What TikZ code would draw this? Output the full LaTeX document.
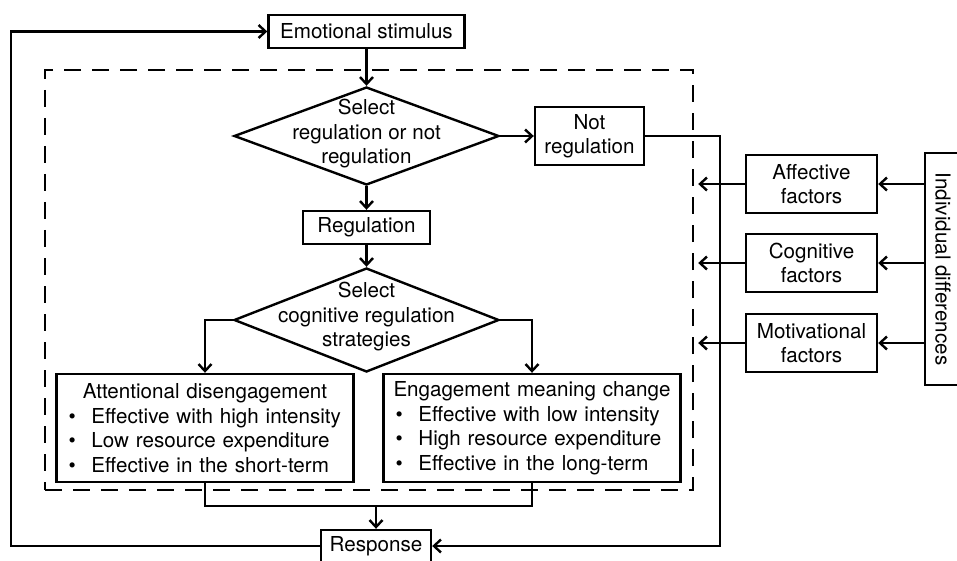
\documentclass[tikz,border=0pt]{standalone}
\usepackage{fontspec}
\setmainfont{TeX Gyre Heros}
\usetikzlibrary{arrows.meta,shapes.geometric,calc}
\newcommand{\itembul}{\makebox[23pt][l]{\textbullet}}

\begin{document}
\begin{tikzpicture}[x=1pt,y=-1pt,
      line width=2.4pt,
      every node/.style={font=\fontsize{20.6}{24.5}\selectfont},
      stepbox/.style={draw,rectangle,inner sep=0pt,align=center},
      decide/.style={draw,diamond,inner sep=0pt,minimum width=265pt,minimum height=98pt},
      listbox/.style={draw,rectangle,text width=273pt,inner xsep=12pt,inner ysep=4pt,
        minimum height=108pt,align=left},
      dashframe/.style={draw,dash pattern=on 17pt off 11pt,inner sep=0pt},
      tip/.style={-{Straight Barb[length=7pt,width=13pt]}}
      ]
      \useasboundingbox (0,0) rectangle (957,561);

      % main flow
      \node[stepbox,minimum width=196pt,minimum height=33pt] (stim) at (366.5,31.5) {Emotional stimulus};
      \node[dashframe,minimum width=648pt,minimum height=420pt] (regframe) at (369,280) {};
      \node[decide] (sel1) at (366.5,136) {};
      \node[align=center] (sel1txt) at (366.5,134) {Select\\regulation or not\\regulation};
      \node[stepbox,minimum width=109pt,minimum height=58pt] (notreg) at (589.5,136) {Not\\regulation};
      \node[stepbox,minimum width=127pt,minimum height=33pt] (reg) at (366.5,227.5) {Regulation};
      \node[decide,minimum height=104pt] (sel2) at (366.5,320) {};
      \node[align=center] (sel2txt) at (366.5,317) {Select\\cognitive regulation\\strategies};

      \node[listbox] (att) at (205,428) {\makebox[273pt]{Attentional disengagement}\\
        \itembul Effective with high intensity\\
        \itembul Low resource expenditure\\
        \itembul Effective in the short-term};
      \node[listbox] (eng) at (532,428) {\makebox[273pt]{Engagement meaning change}\\
        \itembul Effective with low intensity\\
        \itembul High resource expenditure\\
        \itembul Effective in the long-term};

      \node[stepbox,minimum width=110pt,minimum height=32pt] (resp) at (376,546) {Response};

      % individual differences
      \node[stepbox,minimum width=131pt,minimum height=58pt] (aff) at (811.5,184) {Affective\\factors};
      \node[stepbox,minimum width=131pt,minimum height=58pt] (cog) at (811.5,263) {Cognitive\\factors};
      \node[stepbox,minimum width=131pt,minimum height=58pt] (mot) at (811.5,343) {Motivational\\factors};
      \node[stepbox,rotate=-90,minimum width=232pt,minimum height=36pt] (indiv) at (943,269) {Individual differences};

      \draw[tip] (stim.south) -- (sel1.north);
      \draw[tip] (sel1.east) -- (notreg.west);
      \draw[tip] (sel1.south) -- (reg.north);
      \draw[tip] (reg.south) -- (sel2.north);
      \draw[tip] (sel2.west) -| (att.north);
      \draw[tip] (sel2.east) -| (eng.north);

      \coordinate (merge) at (376,506);
      \draw (att.south) |- (merge) -| (eng.south);
      \draw[tip] (merge) -- (resp.north);

      \draw[tip] (notreg.east) -- ++(75,0) |- (resp.east);
      \draw[tip] (resp.west) -- ++(-309,0) |- (stim.west);

      \foreach \f in {aff,cog,mot} {
        \draw[tip] (indiv.south |- \f.east) -- (\f.east);
        \draw[tip] (\f.west) -- ($(\f.west -| regframe.east)+(4,0)$);
      }
\end{tikzpicture}
\end{document}
